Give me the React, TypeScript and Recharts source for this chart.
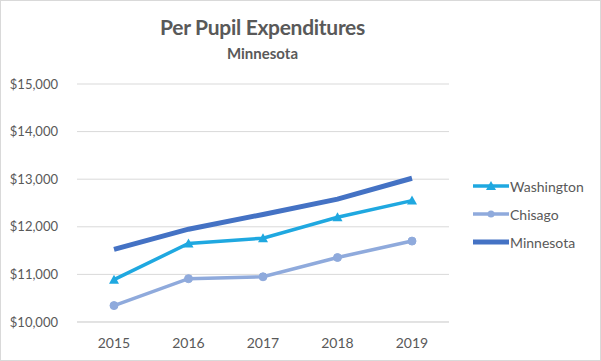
import { LineChart, Line, XAxis, YAxis, CartesianGrid, Legend } from 'recharts';

const YEARS = ['2015', '2016', '2017', '2018', '2019'];
const WASHINGTON = [10890, 11650, 11760, 12200, 12550];
const CHISAGO = [10345, 10910, 10950, 11355, 11700];
const MINNESOTA = [11525, 11950, 12260, 12580, 13020];
const Y_TICKS = [10000, 11000, 12000, 13000, 14000, 15000];
const SERIES_ORDER = ['Washington', 'Chisago', 'Minnesota'];

const TEXT = '#595959';
const FONT = 'Lato, "Open Sans", sans-serif';

const data = YEARS.map((year, i) => ({
  year,
  Washington: WASHINGTON[i],
  Chisago: CHISAGO[i],
  Minnesota: MINNESOTA[i],
}));

const money = (v: number) => '$' + v.toLocaleString('en-US');

function Triangle(props: any) {
  const { cx, cy, fill } = props;
  if (cx == null || cy == null) return null;
  return <path d={`M${cx},${cy - 5} L${cx + 5},${cy + 4} L${cx - 5},${cy + 4} Z`} fill={fill} />;
}

function LegendBox({ payload }: any) {
  const items = [...(payload || [])].sort((a: any, b: any) => SERIES_ORDER.indexOf(a.value) - SERIES_ORDER.indexOf(b.value));
  return (
    <div style={{ fontFamily: FONT, fontSize: 14, color: TEXT }}>
      {items.map((p: any) => (
        <div key={p.value} style={{ display: 'flex', alignItems: 'center', height: 28 }}>
          <svg width={36} height={12} style={{ marginRight: 1 }}>
            <line x1={0} y1={6} x2={36} y2={6} stroke={p.color} strokeWidth={p.value === 'Minnesota' ? 5 : 3.5} />
            {p.value === 'Washington' && <Triangle cx={18} cy={6} fill={p.color} />}
            {p.value === 'Chisago' && <circle cx={18} cy={6} r={3.5} fill={p.color} />}
          </svg>
          <span>{p.value}</span>
        </div>
      ))}
    </div>
  );
}

export default function App() {
  return (
    <div style={{ position: 'absolute', left: 0, top: 0, width: 599, height: 359, border: '1px solid #d9d9d9', background: '#fff' }}>
      <div style={{ position: 'absolute', left: 0, width: 523, top: 13, textAlign: 'center', fontFamily: FONT, fontSize: 21, color: TEXT, fontWeight: 700, letterSpacing: -0.3 }}>
        Per Pupil Expenditures
      </div>
      <div style={{ position: 'absolute', left: 0, width: 523, top: 43, textAlign: 'center', fontFamily: FONT, fontSize: 15, color: TEXT, fontWeight: 700 }}>
        Minnesota
      </div>
      <LineChart width={599} height={359} data={data} margin={{ top: 83, right: 151, bottom: 8, left: 0 }}>
        <CartesianGrid vertical={false} stroke="#d9d9d9" />
        <XAxis
          dataKey="year"
          height={30}
          padding={{ left: 37, right: 37 }}
          axisLine={{ stroke: '#d9d9d9' }}
          tickLine={false}
          tick={{ fill: TEXT, fontSize: 14, fontFamily: FONT }}
          tickMargin={10}
        />
        <YAxis
          width={76}
          domain={[10000, 15000]}
          ticks={Y_TICKS}
          tickFormatter={money}
          axisLine={false}
          tickLine={false}
          tick={{ fill: TEXT, fontSize: 13, fontFamily: FONT }}
          tickMargin={13}
        />
        <Legend
          layout="horizontal"
          align="center"
          verticalAlign="middle"
          content={<LegendBox />}
          wrapperStyle={{ position: 'absolute', left: 472, top: 171, width: 120 }}
        />
        <Line dataKey="Washington" stroke="#1fa8e0" strokeWidth={3.5} dot={<Triangle fill="#1fa8e0" />} isAnimationActive={false} />
        <Line dataKey="Chisago" stroke="#8faadc" strokeWidth={3.5} dot={{ r: 4, fill: '#8faadc', stroke: '#8faadc', strokeWidth: 1 }} isAnimationActive={false} />
        <Line dataKey="Minnesota" stroke="#4472c4" strokeWidth={5} dot={false} isAnimationActive={false} />
      </LineChart>
    </div>
  );
}
